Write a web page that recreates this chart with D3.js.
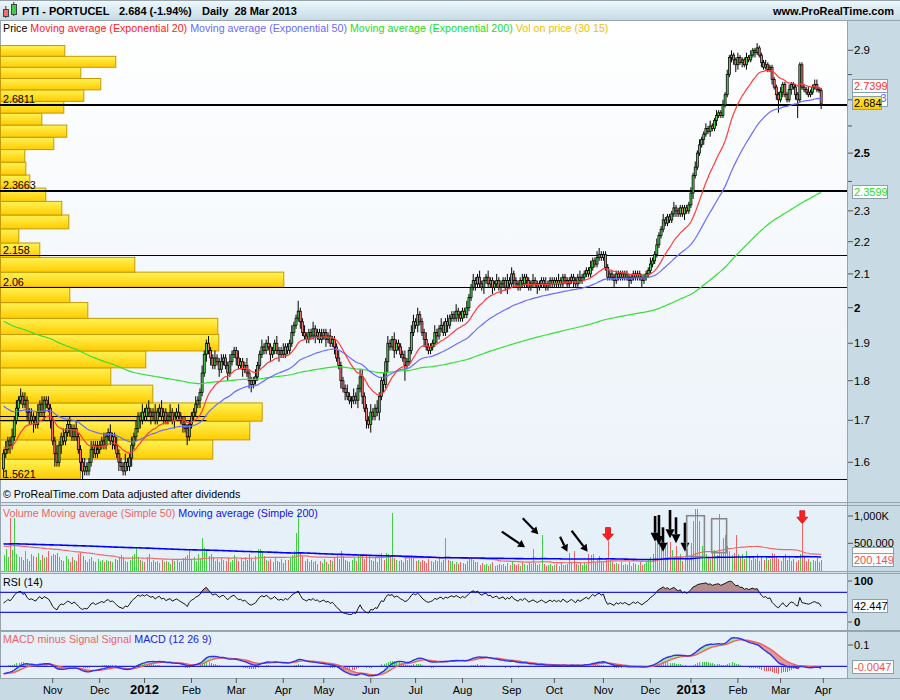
<!DOCTYPE html>
<html><head><meta charset="utf-8">
<script src="https://cdn.jsdelivr.net/npm/d3@7"></script>
<style>
body{margin:0;background:#fff;}
svg{display:block;font-family:"Liberation Sans",Arial,sans-serif;}
</style></head><body>
<svg id="c" width="900" height="700"></svg>
<script>
// ---------------- DATA ----------------
const holidays = ["2011-12-26","2012-04-06","2012-04-09","2012-05-01","2012-12-25","2012-12-26","2013-01-01","2013-03-29"];
const firstOpen = 1.585;
const closes = [
1.62,1.63,1.65,1.64,1.66,1.70,1.73,1.75,1.76,1.74,1.75,1.72,1.70,1.71,1.70,1.69,1.72,1.74,1.72,1.75,1.74,1.73,1.70,1.65,
1.62,1.60,1.64,1.66,1.65,1.67,1.69,1.68,1.66,1.68,1.66,1.63,1.60,1.58,1.59,1.58,1.60,1.63,1.64,1.62,1.63,1.64,1.65,1.64,
1.66,1.67,1.65,1.66,1.64,1.62,1.60,1.59,1.58,1.60,1.59,1.61,1.64,1.66,1.68,1.71,1.70,1.72,1.71,1.73,1.72,1.71,1.72,1.70,
1.72,1.73,1.71,1.72,1.70,1.71,1.72,1.70,1.71,1.72,1.71,1.70,1.69,1.68,1.66,1.69,1.71,1.72,1.74,1.75,1.77,1.82,1.87,1.90,
1.88,1.86,1.84,1.86,1.85,1.83,1.85,1.86,1.84,1.82,1.85,1.87,1.88,1.86,1.84,1.85,1.83,1.84,1.82,1.80,1.79,1.80,1.81,1.84,
1.87,1.89,1.88,1.90,1.89,1.87,1.88,1.90,1.88,1.87,1.88,1.87,1.89,1.88,1.90,1.93,1.95,1.97,1.99,1.96,1.93,1.92,1.91,1.93,
1.92,1.94,1.92,1.93,1.91,1.92,1.93,1.91,1.92,1.90,1.91,1.89,1.86,1.84,1.80,1.78,1.77,1.76,1.75,1.75,1.76,1.75,1.78,1.81,
1.76,1.73,1.70,1.69,1.72,1.71,1.73,1.72,1.76,1.80,1.79,1.85,1.90,1.89,1.91,1.88,1.90,1.89,1.87,1.86,1.84,1.85,1.88,1.93,
1.96,1.95,1.98,1.96,1.93,1.91,1.89,1.88,1.89,1.90,1.93,1.92,1.94,1.95,1.93,1.96,1.95,1.97,1.98,1.97,1.99,1.98,1.97,1.99,
1.98,2.00,2.03,2.06,2.08,2.07,2.09,2.07,2.06,2.08,2.09,2.07,2.08,2.06,2.07,2.08,2.06,2.07,2.08,2.06,2.08,2.07,2.10,2.08,
2.07,2.06,2.08,2.07,2.09,2.08,2.06,2.07,2.08,2.07,2.06,2.07,2.08,2.07,2.06,2.07,2.08,2.07,2.08,2.07,2.08,2.07,2.09,2.08,
2.07,2.08,2.09,2.08,2.07,2.09,2.08,2.09,2.10,2.11,2.10,2.12,2.14,2.13,2.15,2.16,2.15,2.16,2.12,2.09,2.10,2.09,2.08,2.10,
2.09,2.10,2.09,2.10,2.09,2.08,2.09,2.10,2.09,2.10,2.09,2.08,2.09,2.10,2.11,2.13,2.14,2.16,2.19,2.22,2.24,2.27,2.26,2.28,
2.27,2.29,2.31,2.30,2.29,2.31,2.29,2.31,2.30,2.32,2.36,2.42,2.45,2.50,2.53,2.55,2.57,2.59,2.58,2.60,2.59,2.62,2.64,2.65,
2.64,2.68,2.72,2.80,2.87,2.88,2.86,2.84,2.87,2.85,2.86,2.84,2.87,2.86,2.88,2.90,2.89,2.91,2.88,2.85,2.83,2.84,2.82,2.83,
2.78,2.75,2.72,2.70,2.73,2.76,2.72,2.70,2.74,2.76,2.75,2.72,2.70,2.84,2.75,2.74,2.73,2.72,2.73,2.75,2.76,2.74,2.737,2.684];
// upper / lower shadows beyond the body, in cents
const wickHi = [
1,2,1,1,2,1,2,1,2,1,2,1,1,2,1,1,2,1,2,1,1,2,1,1,
1,2,1,1,2,1,1,2,1,1,2,1,1,1,2,1,1,2,1,1,2,1,1,2,
1,1,2,1,1,2,1,1,1,2,1,1,2,1,2,1,1,2,1,1,2,1,1,2,
1,1,2,1,1,1,2,1,1,1,2,1,1,2,1,1,1,1,2,1,1,2,1,1,
2,1,1,2,1,1,2,1,1,1,2,1,1,1,2,1,1,1,2,1,1,1,2,1,
1,2,1,1,2,1,1,1,2,1,1,2,1,1,1,2,1,1,3,1,1,2,1,1,
1,2,1,1,1,2,1,1,1,2,1,1,1,2,1,1,1,2,1,1,2,1,1,2,
2,1,1,1,2,1,1,2,1,1,2,1,2,1,1,2,1,1,1,1,2,1,1,2,
2,1,2,1,1,1,2,1,1,1,2,1,1,2,1,1,2,1,1,1,2,1,1,1,
1,2,1,1,2,1,1,2,1,1,1,2,1,1,1,2,1,1,1,1,2,1,2,1,
1,1,1,2,1,1,1,1,2,1,1,1,1,1,2,1,1,1,1,1,2,1,1,1,
1,1,1,1,1,1,2,1,1,1,1,2,1,1,2,2,1,1,1,1,1,1,1,1,
1,1,1,1,1,1,1,1,1,1,1,1,1,1,1,2,1,1,2,1,1,2,1,1,
1,1,2,1,1,1,1,1,1,1,2,1,2,1,2,1,1,2,1,2,1,1,2,1,
1,2,1,2,1,2,1,1,2,1,1,1,2,1,2,1,1,2,1,1,1,2,1,1,
1,1,1,1,2,1,1,1,2,1,1,1,1,1,1,1,1,2,1,1,2,2,1,1];
const wickLo = [
2,1,1,2,1,1,1,2,1,1,1,2,1,1,3,1,1,1,1,2,1,1,2,1,
3,1,1,2,1,1,1,2,1,1,1,1,2,2,1,1,1,1,2,1,1,1,1,1,
1,1,1,2,1,1,2,1,1,1,1,1,2,1,1,1,2,1,1,1,1,2,1,1,
1,1,1,2,1,1,1,1,2,1,1,1,2,1,2,1,1,1,1,1,2,1,1,2,
1,2,1,1,1,2,1,1,1,2,1,1,1,2,1,1,2,1,1,2,2,1,1,1,
1,1,1,1,1,2,1,1,1,2,1,1,1,1,1,1,1,1,1,2,1,1,1,1,
1,1,2,1,1,1,1,2,1,1,1,2,1,1,2,1,2,1,1,2,1,1,2,1,
2,1,2,1,2,1,1,1,2,1,2,1,3,1,1,2,1,1,1,1,4,1,1,1,
1,1,2,1,1,2,1,1,1,1,1,2,1,1,1,1,2,1,1,1,1,2,1,1,
1,1,1,1,1,2,1,1,1,2,1,1,1,2,1,1,1,2,1,1,2,1,1,2,
1,1,1,1,1,2,1,1,1,1,2,1,1,1,1,1,1,1,1,1,1,1,1,1,
1,1,1,2,1,1,1,1,1,1,1,1,1,1,1,1,1,1,1,1,1,1,2,1,
1,1,1,1,1,2,1,1,1,1,1,2,1,1,1,1,1,1,1,1,1,1,1,1,
1,1,1,2,1,1,1,2,1,1,1,2,1,1,1,1,2,1,1,2,1,1,2,1,
1,1,1,1,1,2,2,3,2,1,2,1,2,1,1,1,2,1,1,2,1,1,1,1,
2,1,2,5,1,2,1,1,1,2,1,2,7,1,1,1,1,1,1,1,1,1,1,2];
// daily volume, thousands of shares
const volumes = [
290,400,250,960,380,960,300,250,240,200,350,220,180,300,260,250,330,200,280,230,240,350,260,300,
280,320,250,200,180,260,220,150,240,200,180,310,330,260,200,150,220,240,180,160,210,170,190,150,
200,170,180,150,210,190,230,280,250,180,160,200,260,310,440,250,200,180,150,240,300,160,200,150,
180,140,200,160,180,150,130,190,170,210,160,180,230,250,280,400,220,250,180,300,220,600,420,350,
260,300,250,180,210,160,240,200,180,230,150,190,280,210,170,230,180,250,200,300,220,180,260,400,
400,350,260,200,180,220,150,240,180,160,210,140,190,200,230,280,350,680,1080,320,260,180,220,160,
200,150,170,130,180,140,210,160,120,190,170,240,300,220,350,260,200,180,150,190,230,170,280,310,
260,220,300,280,200,180,240,160,250,320,200,330,300,260,1060,230,200,170,190,150,260,200,230,290,
250,180,200,160,190,170,140,210,180,150,200,170,230,160,190,590,200,170,180,130,150,120,160,140,
120,180,220,250,200,160,150,110,140,100,130,90,120,150,80,110,130,100,120,90,140,110,170,130,
100,120,90,150,130,110,160,120,400,140,100,130,660,120,90,110,130,80,100,120,90,140,110,100,
130,320,150,350,120,100,140,110,160,130,300,290,310,150,200,260,180,150,220,550,200,160,130,140,
120,150,100,130,110,160,90,140,120,100,150,110,130,170,200,250,300,520,540,500,550,770,480,520,
520,380,250,450,220,300,180,260,400,220,500,900,1130,1130,900,450,700,300,250,220,350,380,280,1040,
300,600,650,450,350,280,320,650,300,250,300,220,350,260,200,250,220,300,180,240,200,260,190,220,
330,300,260,220,180,240,300,200,250,180,220,160,200,300,860,240,180,210,160,200,170,230,150,200.149];
// "Vol on price (30 15)": 30 equal price slices from profileBase, bottom to top (thousands)
const profileBase = 1.5621, profileStep = 0.04527;
const profileVolumes = [800,2123,2493,2617,1523,1103,1453,2183,2173,873,693,2833,1343,393,183,683,613,453,293,253,243,533,663,413,633,833,1003,803,1153,643];
const profileLevels = [2.6811, 2.3663, 2.158, 2.06, 1.5621];
const shortLevels = [1.711, 1.700];
// indicator seeds (values of the indicators at the left edge of the chart)
const ema20Seed = 1.635, ema50Seed = 1.74, ema200Seed = 1.965;
const macdFastSeed = 1.645, macdSlowSeed = 1.68, macdSignalSeed = -0.035;
const rsiGainSeed = 0.006, rsiLossSeed = 0.009;
const volMa50Seed = 450, volMa200Seed = 490;
// axis labels
const priceTicks = [1.6,1.7,1.8,1.9,2,2.1,2.2,2.3,2.5,2.9];
const priceBoldTicks = [2,2.5];
const priceMinorTicks = [2.4,2.6,2.7,2.8];
const volTicks = [1000, 500];
const volTickLabels = ["1,000K","500,000"];
const lastLabels = ["2.7399","3","2.684","2.3599","200,149","42.447","-0.0047"];
const lastValues = [2.7399, 2.7033, 2.684, 2.3599, 200.149, 42.447, -0.0047];
// annotations on volume: diagonal arrows [index, tip volume], vertical arrows, red markers, boxes
const diagArrows = [[244.3,427],[250.5,665],[264.1,346],[273.6,346]];
const vertArrows = [[305.2,529],[307,469],[308.9,346],[312.2,592],[315,500],[319.2,346]];
const redMarkers = [283, 374];
const boxes = [[320.0,328.3,1005,255],[331.7,338.7,950,328]];

// ---------------- SETUP ----------------
const svg = d3.select("#c");
const N = closes.length;
const days = [];
{ const d = new Date(Date.UTC(2011,8,29));
  while (days.length < N + 1) {
    const dow = d.getUTCDay(), iso = d.toISOString().slice(0,10);
    if (dow !== 0 && dow !== 6 && !holidays.includes(iso)) days.push(new Date(d));
    d.setUTCDate(d.getUTCDate()+1);
  } }
const x = d3.scaleLinear().domain([0, 384]).range([3.6, 823.3]);
const yP = d3.scaleLog().domain([1.6, 2.9]).range([462.3, 50.3]);
const yV = d3.scaleLinear().domain([0, 1000]).range([570.6, 516]);
const yR = d3.scaleLinear().domain([0, 100]).range([627.3, 577.3]);
const yM = d3.scaleLinear().domain([0, 0.1]).range([666.3, 645]);
const wP = d3.scaleLinear().domain([0, d3.max(profileVolumes)]).range([0, 283.3]);

const opens = closes.map((c,i) => i === 0 ? firstOpen : closes[i-1]);
const highs = closes.map((c,i) => Math.max(c, opens[i]) + (wickHi[i] ?? 1)/100);
const lows  = closes.map((c,i) => Math.min(c, opens[i]) - (wickLo[i] ?? 1)/100);
function ema(vals, n, seed){ const k = 2/(n+1); let e = seed; return vals.map(v => (e = e + k*(v - e))); }
function smaSeeded(vals, n, seed){ return vals.map((v,i) => { let s = 0; for (let j=i-n+1;j<=i;j++) s += j<0 ? seed : vals[j]; return s/n; }); }
const ema20 = ema(closes, 20, ema20Seed), ema50 = ema(closes, 50, ema50Seed), ema200 = ema(closes, 200, ema200Seed);
const vma50 = smaSeeded(volumes, 50, volMa50Seed), vma200 = smaSeeded(volumes, 200, volMa200Seed);
let ag = rsiGainSeed, al = rsiLossSeed;
const rsi = closes.map((c,i) => { const d = c - opens[i]; ag = (ag*13 + Math.max(d,0))/14; al = (al*13 + Math.max(-d,0))/14; return 100 - 100/(1 + ag/al); });
const e12 = ema(closes, 12, macdFastSeed), e26 = ema(closes, 26, macdSlowSeed);
const macd = e12.map((v,i) => v - e26[i]);
const signal = ema(macd, 9, macdSignalSeed);
const hist = macd.map((v,i) => v - signal[i]);
const idx = d3.range(N);

// ---------------- BACKGROUND ----------------
const defs = svg.append("defs");
function lg(id, stops){ const g = defs.append("linearGradient").attr("id",id).attr("x1",0).attr("y1",0).attr("x2",0).attr("y2",1);
  stops.forEach(([o,c]) => g.append("stop").attr("offset",o).attr("stop-color",c)); }
lg("hdr", [[0,"#eef9fd"],[1,"#c6dbe6"]]);
lg("pbg", [[0,"#ffffff"],[1,"#ebf2f9"]]);
lg("bar", [[0,"#fff356"],[1,"#ffcc00"]]);
lg("ybox", [[0,"#ffe84a"],[1,"#ffc800"]]);
function clip(id, x0, y0, w, h){ defs.append("clipPath").attr("id",id).append("rect").attr("x",x0).attr("y",y0).attr("width",w).attr("height",h); }
clip("cp", 0, 20, 847, 482); clip("cv", 0, 506, 847, 65); clip("cr", 0, 574, 847, 56); clip("cm", 0, 632, 847, 46);

svg.append("rect").attr("width",900).attr("height",700).attr("fill","#fff");
svg.append("rect").attr("x",0).attr("y",0).attr("width",900).attr("height",20).attr("fill","url(#hdr)");
svg.append("rect").attr("x",0).attr("y",20).attr("width",848).attr("height",482).attr("fill","url(#pbg)");
[[506,65],[574,56],[632,46]].forEach(([y0,h]) => svg.append("rect").attr("x",0).attr("y",y0).attr("width",848).attr("height",h).attr("fill","#e6f0f8"));
[[502,4],[571,3],[630,2]].forEach(([y0,h]) => svg.append("rect").attr("x",0).attr("y",y0).attr("width",900).attr("height",h).attr("fill","#dbe4ec"));
svg.append("rect").attr("x",848).attr("y",20).attr("width",52).attr("height",680).attr("fill","#c8dbe5");
svg.append("rect").attr("x",0).attr("y",678).attr("width",900).attr("height",22).attr("fill","#c8dbe5");
const sepG = svg.append("g").attr("stroke","#97a4ae").attr("stroke-width",1).attr("shape-rendering","crispEdges");
[20.5,502.5,505.5,571.5,573.5,630.5,631.5,678.5].forEach(yy => sepG.append("line").attr("x1",0).attr("x2",900).attr("y1",yy).attr("y2",yy));
sepG.append("line").attr("x1",847.5).attr("x2",847.5).attr("y1",20).attr("y2",678);
sepG.append("line").attr("x1",0.5).attr("x2",0.5).attr("y1",20).attr("y2",678);
sepG.append("line").attr("x1",0).attr("x2",900).attr("y1",0.5).attr("y2",0.5);

// ---------------- HEADER ----------------
const hd = svg.append("g");
hd.append("line").attr("x1",5.8).attr("x2",5.8).attr("y1",6).attr("y2",18).attr("stroke","#333");
hd.append("rect").attr("x",3.5).attr("y",9.5).attr("width",5).attr("height",7).attr("fill","#f07070").attr("stroke","#444");
hd.append("line").attr("x1",13.8).attr("x2",13.8).attr("y1",2).attr("y2",16).attr("stroke","#333");
hd.append("rect").attr("x",11.5).attr("y",4.5).attr("width",5).attr("height",10).attr("fill","#44cc44").attr("stroke","#444");
hd.append("text").attr("x",22).attr("y",15).attr("font-size",11).attr("font-weight","bold").text("PTI - PORTUCEL");
hd.append("text").attr("x",119).attr("y",15).attr("font-size",11).attr("font-weight","bold").text("2.684 (-1.94%)");
hd.append("text").attr("x",202).attr("y",15).attr("font-size",11).attr("font-weight","bold").attr("xml:space","preserve").text("Daily  28 Mar 2013");
hd.append("text").attr("x",894).attr("y",15).attr("font-size",11).attr("font-weight","bold").attr("text-anchor","end").text("www.ProRealTime.com");

// ---------------- PRICE PANEL ----------------
const pg = svg.append("g").attr("clip-path","url(#cp)");
pg.selectAll("rect.pv").data(profileVolumes).join("rect").attr("class","pv")
  .attr("x",0.5).attr("y",(v,k) => yP(profileBase + (k+1)*profileStep))
  .attr("width",v => wP(v)).attr("height",(v,k) => yP(profileBase + k*profileStep) - yP(profileBase + (k+1)*profileStep))
  .attr("fill","url(#bar)").attr("stroke","#c49a00").attr("stroke-width",1);
profileLevels.forEach((p,k) => {
  const yy = Math.round(yP(p)) + (k < 2 ? 0 : 0.5);
  pg.append("line").attr("x1",0).attr("x2",847).attr("y1",yy).attr("y2",yy).attr("stroke","#000").attr("stroke-width",k < 2 ? 2 : 1);
  pg.append("text").attr("x",3).attr("y",yy - 2).attr("font-size",10.7).attr("fill","#000").text(String(p));
});
shortLevels.forEach(p => { const yy = Math.round(yP(p)) + 0.5;
  pg.append("line").attr("x1",0).attr("x2",x(95)).attr("y1",yy).attr("y2",yy).attr("stroke","#000").attr("stroke-width",1); });
// candles
const cg = pg.append("g");
cg.selectAll("line.w").data(idx).join("line").attr("class","w")
  .attr("x1",i => x(i)).attr("x2",i => x(i)).attr("y1",i => yP(highs[i])).attr("y2",i => yP(lows[i]))
  .attr("stroke","#000").attr("stroke-width",1);
cg.selectAll("rect.b").data(idx).join("rect").attr("class","b")
  .attr("x",i => x(i) - 1).attr("width",2)
  .attr("y",i => yP(Math.max(opens[i], closes[i])))
  .attr("height",i => Math.max(1, yP(Math.min(opens[i], closes[i])) - yP(Math.max(opens[i], closes[i]))))
  .attr("fill",i => closes[i] >= opens[i] ? "#4fd24f" : "#f07878").attr("stroke","#000").attr("stroke-width",0.75);
const lineP = arr => d3.line().x(i => x(i)).y(i => yP(arr[i]))(idx);
pg.append("path").attr("d",lineP(ema200)).attr("fill","none").attr("stroke","#33e033").attr("stroke-width",1.2);
pg.append("path").attr("d",lineP(ema50)).attr("fill","none").attr("stroke","#6b6bff").attr("stroke-width",1.2);
pg.append("path").attr("d",lineP(ema20)).attr("fill","none").attr("stroke","#ff3b3b").attr("stroke-width",1.2);
// legend
const lgd = svg.append("text").attr("x",3).attr("y",32).attr("font-size",10.7).attr("xml:space","preserve");
[["Price ","#000"],["Moving average (Exponential 20) ","#ff2020"],["Moving average (Exponential 50) ","#6a6aff"],["Moving average (Exponential 200) ","#22dd22"],["Vol on price (30 15)","#f0c000"]]
  .forEach(([t,c]) => lgd.append("tspan").attr("fill",c).text(t));
svg.append("text").attr("x",3).attr("y",498).attr("font-size",10.7).text("© ProRealTime.com Data adjusted after dividends");
// price axis
const ax = svg.append("g");
priceTicks.forEach(p => { const yy = yP(p);
  ax.append("line").attr("x1",848).attr("x2",853).attr("y1",yy).attr("y2",yy).attr("stroke","#555");
  ax.append("text").attr("x",854).attr("y",yy).attr("dy","0.35em").attr("font-size",11.5)
    .attr("font-weight",priceBoldTicks.includes(p) ? "bold" : "normal").text(String(p)); });
priceMinorTicks.forEach(p => ax.append("line").attr("x1",848).attr("x2",852).attr("y1",yP(p)).attr("y2",yP(p)).attr("stroke","#555"));
function valueBox(yc, text, color, fill, w){
  ax.append("rect").attr("x",852.5).attr("y",Math.round(yc) - 6.5).attr("width",w).attr("height",13).attr("fill",fill).attr("stroke","#8d9eab");
  ax.append("text").attr("x",854).attr("y",yc).attr("dy","0.36em").attr("font-size",11).attr("fill",color).text(text); }
// EMA 50 box: only its last digit shows beside the price box
ax.append("rect").attr("x",852.5).attr("y",92.5).attr("width",35).attr("height",14).attr("fill","#fff").attr("stroke","#8d9eab");
ax.append("text").attr("x",886.5).attr("y",98).attr("dy","0.36em").attr("text-anchor","end").attr("font-size",11).attr("fill","#5a5aff").text(lastLabels[1]);
valueBox(yP(lastValues[0]) - 3.5, lastLabels[0], "#ff3030", "#fff", 35);
valueBox(yP(lastValues[2]) - 0.5, lastLabels[2], "#000", "url(#ybox)", 29);
valueBox(yP(lastValues[3]) - 1.5, lastLabels[3], "#22dd22", "#fff", 35);

// ---------------- VOLUME PANEL ----------------
const vg = svg.append("g").attr("clip-path","url(#cv)");
vg.selectAll("rect.v").data(idx).join("rect").attr("class","v")
  .attr("x",i => Math.round(x(i))).attr("width",1).attr("y",i => yV(volumes[i])).attr("height",i => yV(0) - yV(volumes[i]))
  .attr("fill",i => closes[i] >= opens[i] ? "#44cc44" : "#ee6464").attr("shape-rendering","crispEdges");
const lineV = arr => d3.line().x(i => x(i)).y(i => yV(arr[i]))(idx);
vg.append("path").attr("d",lineV(vma50)).attr("fill","none").attr("stroke","#ee6a6a").attr("stroke-width",1.2);
vg.append("path").attr("d",lineV(vma200)).attr("fill","none").attr("stroke","#0000ff").attr("stroke-width",1.6);
const vl = svg.append("text").attr("x",3).attr("y",517).attr("font-size",10.7).attr("xml:space","preserve");
vl.append("tspan").attr("fill","#ec6464").text("Volume Moving average (Simple 50) ");
vl.append("tspan").attr("fill","#1010ee").text("Moving average (Simple 200)");
// annotations
const an = svg.append("g");
function arrow(x1,y1,x2,y2,col,hl,hw,sw){
  const dx = x2-x1, dy = y2-y1, L = Math.hypot(dx,dy), ux = dx/L, uy = dy/L;
  const bx = x2 - ux*hl, by = y2 - uy*hl;
  an.append("line").attr("x1",x1).attr("y1",y1).attr("x2",bx).attr("y2",by).attr("stroke",col).attr("stroke-width",sw);
  an.append("polygon").attr("points",[[x2,y2],[bx - uy*hw, by + ux*hw],[bx + uy*hw, by - ux*hw]].map(p => p.join(",")).join(" ")).attr("fill",col);
}
const diagTails = [[-23.3,-15.6],[-15.6,-16],[-7.3,-15],[-16,-21]];
diagArrows.forEach(([i,v],k) => { const tx = x(i), ty = yV(v); arrow(tx + diagTails[k][0], ty + diagTails[k][1], tx, ty, "#000", 7, 4, 2.2); });
const vertLen = [25.7,30,24.4,28.3,26,29];
vertArrows.forEach(([i,v],k) => { const tx = x(i), ty = yV(v); arrow(tx, ty - vertLen[k], tx, ty, "#000", 9, 4.5, 2.6); });
redMarkers.forEach(i => { const tx = x(i) + 0.3, ty = yV(volumes[i]);
  an.append("polygon").attr("points",[[tx-2.5,ty-13],[tx+2.5,ty-13],[tx+2.5,ty-6.5],[tx+5.5,ty-6.5],[tx,ty],[tx-5.5,ty-6.5],[tx-2.5,ty-6.5]].map(p => p.join(",")).join(" "))
    .attr("fill","#ff1f1f").attr("stroke","#b00000").attr("stroke-width",0.6); });
boxes.forEach(([i0,i1,v0,v1]) => an.append("rect").attr("x",x(i0)).attr("y",yV(v0)).attr("width",x(i1)-x(i0)).attr("height",yV(v1)-yV(v0))
  .attr("fill","none").attr("stroke","#888").attr("stroke-width",1.6));
volTicks.forEach((v,k) => { ax.append("line").attr("x1",848).attr("x2",853).attr("y1",yV(v)).attr("y2",yV(v)).attr("stroke","#555");
  ax.append("text").attr("x",854).attr("y",yV(v)).attr("dy","0.35em").attr("font-size",11).text(volTickLabels[k]); });
ax.append("rect").attr("x",852.5).attr("y",547.5).attr("width",41).attr("height",6).attr("fill","#fff").attr("stroke","#8d9eab");
valueBox(yV(lastValues[4]), lastLabels[4], "#ee5050", "#fff", 41);

// ---------------- RSI PANEL ----------------
const rg = svg.append("g").attr("clip-path","url(#cr)");
rg.append("path").attr("d",d3.area().x(i => x(i)).y0(yR(70)).y1(i => yR(Math.max(rsi[i],70)))(idx)).attr("fill","#b68d8d");
[70,30].forEach(l => rg.append("line").attr("x1",0).attr("x2",847).attr("y1",yR(l)).attr("y2",yR(l)).attr("stroke","#2222dd").attr("stroke-width",1.3));
rg.append("path").attr("d",d3.line().x(i => x(i)).y(i => yR(rsi[i]))(idx)).attr("fill","none").attr("stroke","#111").attr("stroke-width",1);
svg.append("text").attr("x",3).attr("y",586).attr("font-size",10.7).text("RSI (14)");
ax.append("text").attr("x",854).attr("y",581).attr("dy","0.35em").attr("font-size",11.5).attr("font-weight","bold").text("100");
ax.append("text").attr("x",854).attr("y",622).attr("dy","0.35em").attr("font-size",11.5).attr("font-weight","bold").text("0");
[581,622].forEach(yy => ax.append("line").attr("x1",848).attr("x2",852).attr("y1",yy).attr("y2",yy).attr("stroke","#555"));
valueBox(yR(lastValues[5]), lastLabels[5], "#000", "#fff", 35);

// ---------------- MACD PANEL ----------------
const mg = svg.append("g").attr("clip-path","url(#cm)");
mg.append("path").attr("d",d3.area().x(i => x(i)).y0(i => yM(signal[i])).y1(i => yM(Math.max(macd[i],signal[i])))(idx)).attr("fill","#9ee99e");
mg.append("path").attr("d",d3.area().x(i => x(i)).y0(i => yM(signal[i])).y1(i => yM(Math.min(macd[i],signal[i])))(idx)).attr("fill","#e39a9a");
mg.selectAll("rect.h").data(idx).join("rect").attr("class","h")
  .attr("x",i => Math.round(x(i))).attr("width",1)
  .attr("y",i => Math.min(yM(0), yM(hist[i]))).attr("height",i => Math.abs(yM(hist[i]) - yM(0)))
  .attr("fill",i => hist[i] >= 0 ? "#3ccc3c" : "#ee5555").attr("shape-rendering","crispEdges");
mg.append("line").attr("x1",0).attr("x2",847).attr("y1",yM(0)).attr("y2",yM(0)).attr("stroke","#2222dd").attr("stroke-width",1.3);
mg.append("path").attr("d",d3.line().x(i => x(i)).y(i => yM(signal[i]))(idx)).attr("fill","none").attr("stroke","#f06060").attr("stroke-width",1.4);
mg.append("path").attr("d",d3.line().x(i => x(i)).y(i => yM(macd[i]))(idx)).attr("fill","none").attr("stroke","#3030ee").attr("stroke-width",1.4);
const ml = svg.append("text").attr("x",3).attr("y",643).attr("font-size",10.7).attr("xml:space","preserve");
ml.append("tspan").attr("fill","#ec6464").text("MACD minus Signal Signal ");
ml.append("tspan").attr("fill","#2020ee").text("MACD (12 26 9)");
ax.append("line").attr("x1",848).attr("x2",853).attr("y1",yM(0.1)).attr("y2",yM(0.1)).attr("stroke","#555");
ax.append("text").attr("x",854).attr("y",yM(0.1)).attr("dy","0.35em").attr("font-size",11).text("0.1");
valueBox(yM(lastValues[6]), lastLabels[6], "#ee5050", "#fff", 41);

// ---------------- TIME AXIS ----------------
const tg = svg.append("g");
const fmtM = d3.utcFormat("%b"), fmtY = d3.utcFormat("%Y");
for (let i = 1; i < days.length; i++) {
  if (days[i].getUTCMonth() !== days[i-1].getUTCMonth()) {
    const xx = x(i); if (xx < 20) continue;
    const isYear = days[i].getUTCMonth() === 0;
    tg.append("line").attr("x1",xx).attr("x2",xx).attr("y1",678).attr("y2",683).attr("stroke","#555");
    tg.append("text").attr("x",xx).attr("y",694).attr("text-anchor","middle")
      .attr("font-size",isYear ? 13 : 11).attr("font-weight",isYear ? "bold" : "normal")
      .text(isYear ? fmtY(days[i]) : fmtM(days[i]));
  }
}
</script>
</body></html>
